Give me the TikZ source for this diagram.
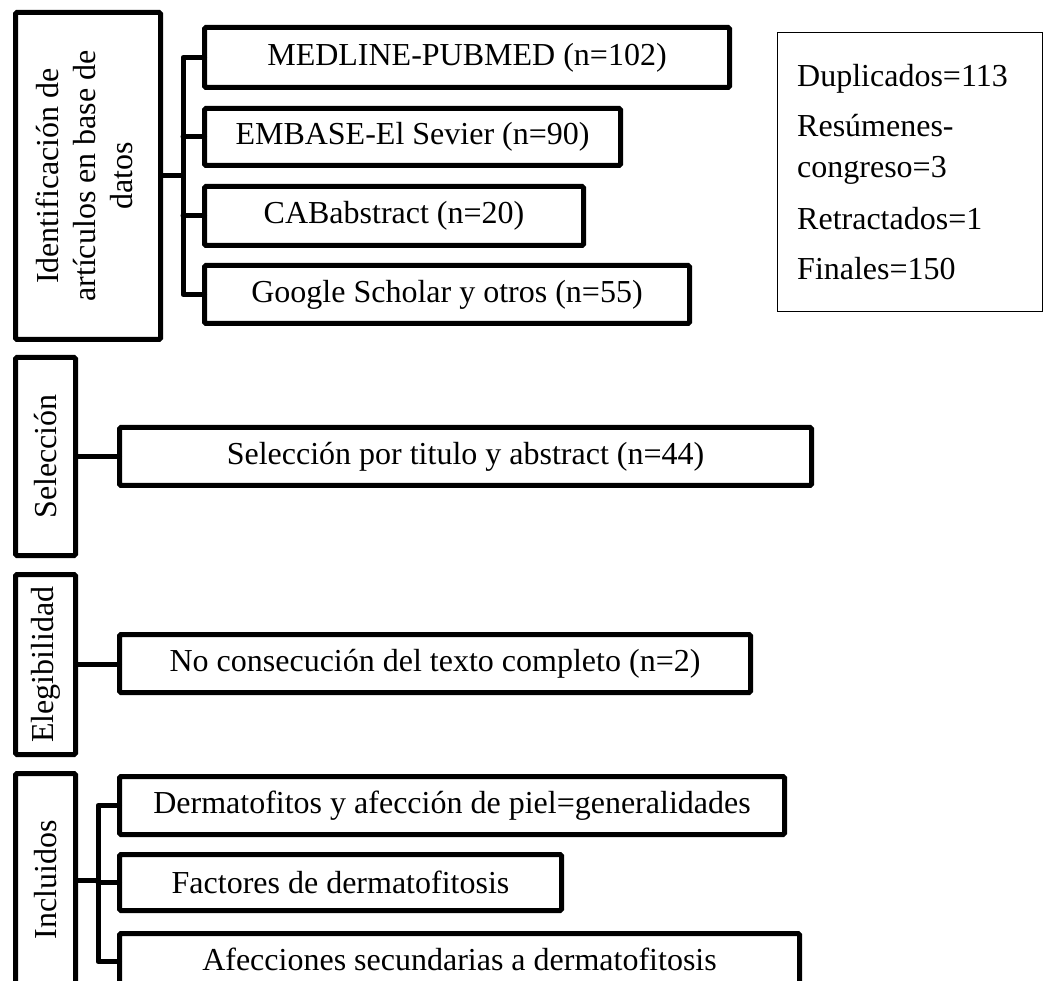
\documentclass[tikz,border=0pt]{standalone}
\usepackage{fontspec}
\setmainfont{Liberation Serif}
\newcommand\mainsize{\fontsize{32}{37}\selectfont}
\newcommand\sidesize{\fontsize{32}{40}\selectfont}
\begin{document}
\begin{tikzpicture}[x=1pt,y=-1pt,
 box/.style={draw, line width=5pt, rounded corners=1.5pt, inner sep=0pt, outer sep=0pt, anchor=north west, font=\mainsize, align=center},
 conn/.style={draw, line width=5pt, line join=round, line cap=round},
 sidetext/.style={anchor=base west, inner sep=0pt, font=\sidesize}]
\useasboundingbox (0,0) rectangle (1050,981);
\clip (0,0) rectangle (1050,981);

% Identification
\node[box, minimum width=145pt, minimum height=327pt] (id) at (15.5,12.5)
  {\rotatebox{90}{\begin{tabular}{@{}c@{}}Identificación de\\artículos en base de\\datos\end{tabular}}};
\node[box, minimum width=525pt, minimum height=60pt] (medline) at (204.5,27.5) {MEDLINE-PUBMED (n=102)};
\node[box, minimum width=416pt, minimum height=57pt] (embase) at (204.5,108.5) {EMBASE-El Sevier (n=90)};
\node[box, minimum width=379pt, minimum height=59pt] (cab) at (204.5,186.5) {CABabstract (n=20)};
\node[box, minimum width=485pt, minimum height=58pt] (google) at (204.5,265.5) {Google Scholar y otros (n=55)};
\draw[conn] (medline.west) -- ++(-21.5,0) coordinate (j1) -- (j1 |- google.west) -- (google.west);
\draw[conn] (embase.west) -- (embase.west -| j1);
\draw[conn] (cab.west) -- (cab.west -| j1);
\draw[conn] (id.east) -- (id.east -| j1);

% side box
\node[draw, line width=1.3pt, minimum width=265pt, minimum height=279pt, anchor=north west, inner sep=0pt, outer sep=0pt] (side) at (777.5,32.5) {};
\node[sidetext] (s1) at (797,87) {Duplicados=113};
\node[sidetext] (s2) at (797,137) {Resúmenes-};
\node[sidetext] (s3) at (797,178) {congreso=3};
\node[sidetext] (s4) at (797,230) {Retractados=1};
\node[sidetext] (s5) at (797,280) {Finales=150};

% Selection
\node[box, minimum width=60pt, minimum height=198pt] (sel) at (15.5,357.5) {\rotatebox{90}{Selección}};
\node[box, minimum width=692pt, minimum height=58pt] (selbox) at (119.5,427.5) {Selección por titulo y abstract (n=44)};
\draw[conn] (sel.east) -- (sel.east -| selbox.west);

% Eligibility
\node[box, minimum width=60pt, minimum height=180pt] (eleg) at (15.5,574.5) {\rotatebox{90}{Elegibilidad}};
\node[box, minimum width=631pt, minimum height=58pt] (nocon) at (119.5,634.5) {No consecución del texto completo (n=2)};
\draw[conn] (eleg.east) -- (eleg.east -| nocon.west);

% Included
\node[box, minimum width=60pt, minimum height=213pt] (incl) at (15.5,773.5) {\rotatebox{90}{Incluidos}};
\node[box, minimum width=665pt, minimum height=58pt] (derm) at (119.5,776.5) {Dermatofitos y afección de piel=generalidades};
\node[box, minimum width=442pt, minimum height=56pt] (fact) at (119.5,854.5) {Factores de dermatofitosis};
\node[box, minimum width=680pt, minimum height=56pt] (afec) at (119.5,933.5) {\raisebox{4pt}{Afecciones secundarias a dermatofitosis}};
\draw[conn] (derm.west) -- ++(-21.5,0) coordinate (j2) -- (j2 |- afec.west) -- (afec.west);
\draw[conn] (fact.west) -- (fact.west -| j2);
\draw[conn] (incl.east) -- (incl.east -| j2);
\end{tikzpicture}
\end{document}
